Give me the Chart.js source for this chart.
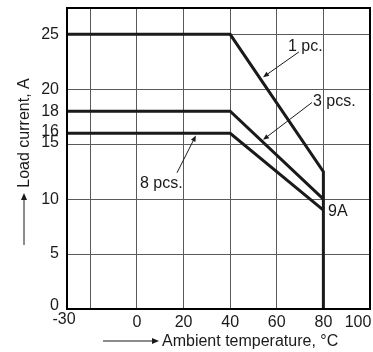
<!DOCTYPE html>
<html><head><meta charset="utf-8">
<script src="https://cdn.jsdelivr.net/npm/chart.js@4/dist/chart.umd.min.js"></script>
<style>html,body{margin:0;padding:0;background:#fff}#c{display:block}</style>
</head>
<body><canvas id="c" width="373" height="352"></canvas>
<script>
// ---- data ----
const temps1 = [-30, 40, 80, 80];
const current1 = [25, 25, 12.5, 0];
const temps3 = [-30, 40, 80];
const current3 = [18, 18, 10];
const temps8 = [-30, 40, 80];
const current8 = [16, 16, 9];
const seriesNames = ['1 pc.', '3 pcs.', '8 pcs.'];
const xTicks = [-30, -20, 0, 20, 40, 60, 80, 100];
const xTickLabels = ['-30', '', '0', '20', '40', '60', '80', '100'];
const yGridValues = [0, 5, 10, 15, 20, 25];
const yTicks = [0, 5, 10, 15, 16, 18, 20, 25];
const yTickLabels = ['0', '5', '10', '15', '16', '18', '20', '25'];
const xTitle = 'Ambient temperature, °C';
const yTitle = 'Load current, A';
const endLabel = '9A';

// annotation anchors in data units
const notes = [
  {text: seriesNames[0], tx: 64.8, ty: 23.9, ax: 69.5, ay: 23.4, bx: 54.1, by: 21.1},
  {text: seriesNames[1], tx: 75.5, ty: 18.9, ax: 75.1, ay: 18.8, bx: 54.1, by: 15.4},
  {text: seriesNames[2], tx: 1.3, ty: 11.4, ax: 17.2, ay: 12.4, bx: 25.3, by: 15.8},
  {text: endLabel, tx: 82.0, ty: 8.9}
];

const FONT = '16px "Liberation Sans", Arial, sans-serif';
const pts = (xs, ys) => xs.map((x, i) => ({x, y: ys[i]}));

function arrow(ctx, x1, y1, x2, y2, len, w) {
  const a = Math.atan2(y2 - y1, x2 - x1);
  const bx = x2 - len * Math.cos(a), by = y2 - len * Math.sin(a);
  ctx.beginPath(); ctx.moveTo(x1, y1); ctx.lineTo(bx, by); ctx.stroke();
  ctx.beginPath();
  ctx.moveTo(x2, y2);
  ctx.lineTo(bx + w * Math.sin(a), by - w * Math.cos(a));
  ctx.lineTo(bx - w * Math.sin(a), by + w * Math.cos(a));
  ctx.closePath(); ctx.fill();
}

// small label nudges (pixels) for crowded tick labels
const yLabelNudge = {0: -3, 16: -2, 15: -2};
const xLabelNudge = {'-30': [-3, -3], '100': [-12, 0]};

const deco = {
  id: 'deco',
  afterDraw(chart) {
    const ctx = chart.ctx, a = chart.chartArea;
    const xs = chart.scales.x, ys = chart.scales.y;
    ctx.save();
    ctx.strokeStyle = '#000'; ctx.lineWidth = 2;
    ctx.strokeRect(a.left, a.top, a.right - a.left, a.bottom - a.top);
    ctx.fillStyle = '#1a1a1a'; ctx.font = FONT;
    // y tick labels
    ctx.textAlign = 'right'; ctx.textBaseline = 'middle';
    yTicks.forEach((v, i) => ctx.fillText(yTickLabels[i], a.left - 8, ys.getPixelForValue(v) + (yLabelNudge[v] || 0)));
    // x tick labels
    ctx.textAlign = 'center'; ctx.textBaseline = 'top';
    xTicks.forEach((v, i) => {
      if (!xTickLabels[i]) return;
      const n = xLabelNudge[xTickLabels[i]] || [0, 0];
      ctx.fillText(xTickLabels[i], xs.getPixelForValue(v) + n[0], a.bottom + 6 + n[1]);
    });
    // annotations
    ctx.textAlign = 'left'; ctx.textBaseline = 'middle';
    ctx.strokeStyle = '#1a1a1a'; ctx.lineWidth = 1;
    notes.forEach(n => {
      ctx.fillText(n.text, xs.getPixelForValue(n.tx), ys.getPixelForValue(n.ty));
      if (n.ax !== undefined) {
        arrow(ctx, xs.getPixelForValue(n.ax), ys.getPixelForValue(n.ay),
              xs.getPixelForValue(n.bx), ys.getPixelForValue(n.by), 6, 2.5);
      }
    });
    // x title with arrow
    ctx.textAlign = 'left'; ctx.textBaseline = 'middle';
    ctx.fillText(xTitle, 162, 342);
    arrow(ctx, 103, 341, 159, 341, 7, 3);
    // y title with arrow
    arrow(ctx, 24, 245, 24, 193, 7, 3);
    ctx.save();
    ctx.translate(25, 133); ctx.rotate(-Math.PI / 2);
    ctx.textAlign = 'center'; ctx.textBaseline = 'middle';
    ctx.fillText(yTitle, 0, 0);
    ctx.restore();
    ctx.restore();
  }
};

const lineStyle = {borderColor: '#1a1a1a', borderWidth: 3, pointRadius: 0, tension: 0, fill: false, clip: false, borderJoinStyle: 'miter'};

new Chart(document.getElementById('c'), {
  type: 'line',
  data: {datasets: [
    Object.assign({label: seriesNames[0], data: pts(temps1, current1)}, lineStyle),
    Object.assign({label: seriesNames[1], data: pts(temps3, current3)}, lineStyle),
    Object.assign({label: seriesNames[2], data: pts(temps8, current8)}, lineStyle)
  ]},
  options: {
    responsive: false, animation: false, devicePixelRatio: 1,
    layout: {padding: {left: 0, top: 8, right: 3, bottom: 0}},
    plugins: {legend: {display: false}, tooltip: {enabled: false}},
    scales: {
      x: {type: 'linear', min: -30, max: 100,
        afterBuildTicks: s => { s.ticks = xTicks.map(v => ({value: v})); },
        afterFit: s => { s.height = 43; s.paddingLeft = 0; s.paddingRight = 0; },
        ticks: {display: false},
        grid: {color: '#5a5a5a', lineWidth: 1, drawTicks: false},
        border: {display: false}},
      y: {type: 'linear', min: 0, max: 27.4,
        afterBuildTicks: s => { s.ticks = yGridValues.map(v => ({value: v})); },
        afterFit: s => { s.width = 67; s.paddingTop = 0; s.paddingBottom = 0; },
        ticks: {display: false},
        grid: {color: '#5a5a5a', lineWidth: 1, drawTicks: false},
        border: {display: false}}
    }
  },
  plugins: [deco]
});
</script>
</body></html>
